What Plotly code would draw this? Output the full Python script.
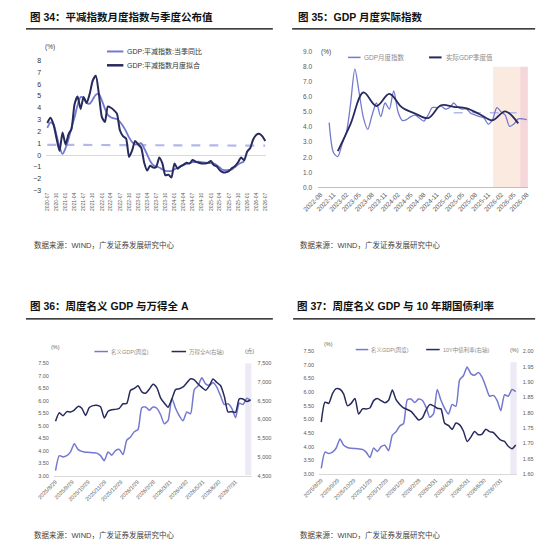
import pandas as pd
import plotly.graph_objects as go

# page body keeps an 8px margin, so the figure covers x 8..541, y 8..547 of the window
OFF = 8
W, H = 549 - 2 * OFF, 555 - 2 * OFF
FONT = "Liberation Sans, Noto Sans CJK SC, sans-serif"

# ---- 图34 平减指数 (monthly, 2020-07 .. 2026-07) ----
p1_months = pd.date_range("2020-07-01", periods=73, freq="MS")
p1_fit = [2.7, 3.15, 2.6, 1.45, 0.35, 1.9, 0.9, 1.8, 2.2, 4.3,
          4.95, 3.9, 4.9, 4.4, 5.2, 6.3, 6.7, 5.2, 3.2, 2.8,
          4.1, 4.0, 3.8, 3.5, 2.1, 1.6, 1.4, -0.15, 0.4, 1.2,
          0.9, 0.6, -0.6, -1.3, -0.9, -1.05, -1.0, -0.2, -0.7, -1.7,
          -1.65, -1.9, -0.7, -1.15, -0.95, -0.8, -0.65, -0.7, -0.42, -0.55,
          -0.65, -0.7, -0.7, -0.65, -0.5, -0.85, -0.95, -1.28, -1.45, -1.45,
          -1.35, -1.1, -0.92, -0.6, -0.2, -0.45, 0.3, 0.6, 1.3, 1.7,
          1.8, 1.6, 1.2]
p1_quarterly = [2.3, 2.75, 2.6, 1.7, 0.7, 0.1, 0.6, 1.4, 2.3, 3.2,
                4.2, 4.9, 4.8, 4.4, 4.35, 4.7, 5.1, 5.15, 4.6, 3.9,
                3.4, 3.2, 3.1, 3.05, 2.8, 2.45, 2.0, 1.5, 1.1, 0.9,
                0.95, 1.0, 0.6, 0.05, -0.5, -0.85, -0.95, -1.05, -1.2, -1.33,
                -1.35, -1.33, -1.2, -1.07, -0.95, -0.85, -0.75, -0.68, -0.6, -0.57,
                -0.56, -0.6, -0.63, -0.65, -0.68, -0.72, -0.85, -1.05, -1.25, -1.28,
                -1.25, -1.2, -1.0, -0.8, -0.65, -0.55]
p1_avg_dates = ["2020-07-01", "2026-07-01"]
p1_avg = [0.87, 0.8]

# ---- 图35 GDP 月度实际指数 ----
p2_months = pd.date_range("2022-10-01", periods=47, freq="MS")
p2_monthly = [4.3, 2.3, 2.05,
              2.9, 3.7, 5.5, 7.85, 6.3, 4.6, 3.85, 4.8, 5.6, 4.7, 5.6, 5.2,
              6.4, 5.0, 4.45, 4.5, 4.7, 4.8, 4.6, 4.4, 4.8, 5.3, 5.3, 5.4,
              5.2, 5.3, 5.6, 5.3, 5.2, 5.2, 4.9, 4.8, 4.7, 4.6, 4.2, 4.5,
              5.3, 5.0, 4.8, 4.05, 4.2, 4.55, 4.55, 4.5]
p2_quarters = pd.date_range("2022-12-01", periods=15, freq="3MS")
p2_quarterly = [2.4, 4.2, 6.3, 5.4, 6.2, 5.3, 4.9, 4.6, 5.45, 5.35, 5.25, 4.85, 4.45, 5.05, 4.25]
p2_target_dates = ["2025-03-01", "2026-06-01"]
p2_target = [4.95, 4.95]
p2_forecast_band = ["2025-12-05", "2026-06-15"]
p2_nowcast_band = ["2026-06-15", "2026-08-08"]

# ---- 图36 / 图37 weekly ----
wk = pd.date_range("2025-08-29", periods=53, freq="7D")
ngdp = [3.2, 3.8, 3.75, 3.8, 3.95, 4.28, 4.05, 3.97, 3.94, 3.93,
        3.92, 3.9, 3.8, 3.6, 3.95, 3.82, 4.0, 4.05, 3.85, 4.42,
        4.55, 4.76, 4.85, 5.72, 5.75, 5.62, 5.75, 5.7, 5.45, 5.08,
        5.2, 6.1, 5.7, 5.4, 5.2, 5.55, 5.48, 6.45, 6.6, 6.92,
        6.68, 6.62, 6.72, 6.55, 6.2, 5.85, 5.88, 5.7, 5.32, 5.9,
        5.85, 6.1, 6.02]
wind_a = [5950, 6180, 6100, 6210, 6200, 6250, 6350, 6300, 6110, 6320,
          6370, 6380, 6340, 6040, 6220, 6260, 6270, 6300, 6420, 6430,
          6780, 6830, 6900, 6740, 6700, 6810, 6940, 6850, 6580, 6440,
          6330, 6540, 6800, 6820, 6870, 6980, 7090, 7060, 6950, 6860,
          6780, 6900, 7080, 6990, 6910, 6620, 6200, 6210, 6190, 6550,
          6550, 6480, 6520]
cgb10 = [1.769, 1.834, 1.83, 1.862, 1.878, 1.876, 1.86, 1.822, 1.83, 1.846,
         1.795, 1.812, 1.812, 1.815, 1.839, 1.846, 1.839, 1.832, 1.84, 1.874,
         1.842, 1.826, 1.815, 1.81, 1.804, 1.79, 1.776, 1.782, 1.808, 1.826,
         1.822, 1.814, 1.812, 1.765, 1.758, 1.745, 1.766, 1.76, 1.74, 1.706,
         1.72, 1.738, 1.728, 1.73, 1.746, 1.738, 1.735, 1.722, 1.71, 1.706,
         1.69, 1.682, 1.694]
wk_ticks = ["2025-08-29", "2025-09-29", "2025-10-29", "2025-11-29", "2025-12-29", "2026-01-29",
            "2026-02-28", "2026-03-31", "2026-04-30", "2026-05-31", "2026-06-30", "2026-07-31"]
wk_ticktext = ["2025/8/29", "2025/9/29", "2025/10/29", "2025/11/29", "2025/12/29", "2026/1/29",
               "2026/2/28", "2026/3/31", "2026/4/30", "2026/5/31", "2026/6/30", "2026/7/31"]
wk_band = ["2026-08-18", "2026-08-30"]

LIGHT = "#7479cf"
DARK = "#262a5c"
DASH = "#b3b7ea"
TICK = "#595959"


# window pixel -> paper fraction
def fx(x):
    return (x - OFF) / W


def fy(y):
    return 1 - (y - OFF) / H


fig = go.Figure()

# panel 1
fig.add_trace(go.Scatter(x=p1_avg_dates, y=p1_avg, mode="lines", xaxis="x", yaxis="y",
                         line=dict(color=DASH, width=2.2, dash="dash")))
fig.add_trace(go.Scatter(x=p1_months[:len(p1_quarterly)], y=p1_quarterly, mode="lines", xaxis="x", yaxis="y",
                         line=dict(color=LIGHT, width=1.8, shape="spline", smoothing=0.8)))
fig.add_trace(go.Scatter(x=p1_months, y=p1_fit, mode="lines", xaxis="x", yaxis="y",
                         line=dict(color=DARK, width=2, shape="spline", smoothing=0.6)))

# panel 2
fig.add_trace(go.Scatter(x=p2_target_dates, y=p2_target, mode="lines", xaxis="x2", yaxis="y2",
                         line=dict(color=DASH, width=1.5, dash="dash")))
fig.add_trace(go.Scatter(x=p2_months, y=p2_monthly, mode="lines", xaxis="x2", yaxis="y2",
                         line=dict(color=LIGHT, width=1.3, shape="spline", smoothing=0.8)))
fig.add_trace(go.Scatter(x=p2_quarters, y=p2_quarterly, mode="lines", xaxis="x2", yaxis="y2",
                         line=dict(color=DARK, width=1.8, shape="spline", smoothing=1.0)))

# panel 3
fig.add_trace(go.Scatter(x=wk, y=ngdp, mode="lines", xaxis="x3", yaxis="y3",
                         line=dict(color=LIGHT, width=1.5, shape="spline", smoothing=0.6)))
fig.add_trace(go.Scatter(x=wk, y=wind_a, mode="lines", xaxis="x3", yaxis="y4",
                         line=dict(color=DARK, width=1.5, shape="spline", smoothing=0.6)))

# panel 4
fig.add_trace(go.Scatter(x=wk, y=ngdp, mode="lines", xaxis="x4", yaxis="y5",
                         line=dict(color=LIGHT, width=1.5, shape="spline", smoothing=0.6)))
fig.add_trace(go.Scatter(x=wk, y=cgb10, mode="lines", xaxis="x4", yaxis="y6",
                         line=dict(color=DARK, width=1.5, shape="spline", smoothing=0.6)))

small = dict(family=FONT, size=5.5, color=TICK)
mid = dict(family=FONT, size=6.5, color=TICK)

fig.update_layout(
    width=W, height=H, autosize=False, showlegend=False,
    margin=dict(l=0, r=0, t=0, b=0),
    paper_bgcolor="white", plot_bgcolor="rgba(0,0,0,0)",
    font=dict(family=FONT, color="#333"),
    # panel 1
    xaxis=dict(domain=[fx(30), fx(258)], anchor="y", range=["2020-06-20", "2026-07-10"],
               tick0="2020-07-01", dtick="M3", tickformat="%Y-%m", tickangle=-90,
               tickfont=dict(family=FONT, size=5, color=TICK), showgrid=False, showline=False,
               zeroline=False, ticks=""),
    yaxis=dict(domain=[fy(189), fy(57)], anchor="x", range=[-3, 8], dtick=1,
               tickfont=dict(family=FONT, size=7, color="#333"), showgrid=False,
               zeroline=True, zerolinecolor="#d9d9d9", zerolinewidth=1, ticklabelstandoff=4),
    # panel 2
    xaxis2=dict(domain=[fx(312), fx(530)], anchor="y2", range=["2022-07-15", "2026-08-12"],
                tick0="2022-08-01", dtick="M3", tickformat="%Y-%m", tickangle=-45,
                tickfont=mid, showgrid=False, showline=True, linecolor="#bfbfbf", linewidth=1,
                zeroline=False, ticks=""),
    yaxis2=dict(domain=[fy(185.7), fy(48.3)], anchor="x2", range=[0, 9], dtick=1, tickformat=".1f",
                tickfont=mid, showgrid=False, zeroline=False, ticklabelstandoff=5),
    # panel 3
    xaxis3=dict(domain=[fx(38), fx(243)], anchor="y3", range=["2025-08-26", "2026-08-30"],
                tickvals=wk_ticks, ticktext=wk_ticktext, tickangle=-45, tickfont=small,
                showgrid=False, showline=True, linecolor="#d9d9d9", zeroline=False, ticks=""),
    yaxis3=dict(domain=[fy(477.7), fy(364)], anchor="x3", range=[3, 7.5], dtick=0.5, tickformat=".2f",
                tickfont=small, showgrid=False, zeroline=False, ticklabelstandoff=4),
    yaxis4=dict(overlaying="y3", side="right", anchor="x3", range=[4500, 7500], dtick=500,
                tickformat=",d", tickfont=small, showgrid=False, zeroline=False, ticklabelstandoff=5),
    # panel 4
    xaxis4=dict(domain=[fx(313), fx(518)], anchor="y5", range=["2025-08-25", "2026-08-30"],
                tickvals=wk_ticks, ticktext=wk_ticktext, tickangle=-45, tickfont=small,
                showgrid=False, showline=True, linecolor="#d9d9d9", zeroline=False, ticks=""),
    yaxis5=dict(domain=[fy(476), fy(351.7)], anchor="x4", range=[3, 7.5], dtick=0.5, tickformat=".2f",
                tickfont=small, showgrid=False, zeroline=False, ticklabelstandoff=4),
    yaxis6=dict(overlaying="y5", side="right", anchor="x4", range=[1.6, 2.0], dtick=0.05,
                tickformat=".2f", tickfont=small, showgrid=False, zeroline=False, ticklabelstandoff=5),
)

shapes = []
# rules under titles
for x0, x1, y in [(9, 265, 25), (285, 537, 25), (9, 265, 319), (286, 537, 319)]:
    shapes.append(dict(type="line", xref="paper", yref="paper", x0=fx(x0), x1=fx(x1), y0=fy(y), y1=fy(y),
                       line=dict(color="black", width=1.2)))
# shaded periods
shapes.append(dict(type="rect", xref="x2", yref="y2", x0=p2_forecast_band[0], x1=p2_forecast_band[1],
                   y0=0, y1=8, fillcolor="#fbeadf", line=dict(width=0), layer="below"))
shapes.append(dict(type="rect", xref="x2", yref="y2", x0=p2_nowcast_band[0], x1=p2_nowcast_band[1],
                   y0=0, y1=8, fillcolor="#f5d6d9", line=dict(width=0), layer="below"))
shapes.append(dict(type="rect", xref="x3", yref="y3", x0=wk_band[0], x1=wk_band[1],
                   y0=3, y1=7.55, fillcolor="#ede9f5", line=dict(width=0), layer="below"))
shapes.append(dict(type="rect", xref="x4", yref="y5", x0=wk_band[0], x1=wk_band[1],
                   y0=3, y1=7.1, fillcolor="#ede9f5", line=dict(width=0), layer="below"))


def legend_line(x0, x1, y, color, width):
    shapes.append(dict(type="line", xref="paper", yref="paper", x0=fx(x0), x1=fx(x1), y0=fy(y), y1=fy(y),
                       line=dict(color=color, width=width)))


legend_line(93, 110, 48, LIGHT, 2)
legend_line(93, 110, 62, DARK, 2.5)
legend_line(343, 356, 54, LIGHT, 1.5)
legend_line(427, 440, 54, DARK, 2)
legend_line(80, 94, 352, LIGHT, 1.5)
legend_line(160, 175, 352, DARK, 1.5)
legend_line(351, 364, 350, LIGHT, 1.5)
legend_line(424, 438, 350, DARK, 1.5)
fig.update_layout(shapes=shapes)

anns = []


def text(x, y, s, size, color="#333", xanchor="left", bold=False):
    anns.append(dict(xref="paper", yref="paper", x=fx(x), y=fy(y), text=f"<b>{s}</b>" if bold else s,
                     showarrow=False, xanchor=xanchor, yanchor="middle",
                     font=dict(family=FONT, size=size, color=color)))


# titles
text(11, 13, "图 34：平减指数月度指数与季度公布值", 10.5, "#111", bold=True)
text(289, 13, "图 35：GDP 月度实际指数", 10.5, "#111", bold=True)
text(11, 306, "图 36：周度名义 GDP 与万得全 A", 10.5, "#111", bold=True)
text(288, 306, "图 37：周度名义 GDP 与 10 年期国债利率", 10.5, "#111", bold=True)
# sources
for x, y in [(15, 244), (291, 244), (15, 538), (291, 538)]:
    text(x, y, "数据来源：WIND，广发证券发展研究中心", 7.5, "#444")
# units and legends
text(27, 43, "(%)", 6.5, "#444")
text(112, 48, "GDP:平减指数:当季同比", 7, "#333")
text(112, 62, "GDP:平减指数月度拟合", 7, "#333")
text(313, 49, "(%)", 6.5, "#444")
text(357, 54, "GDP月度指数", 6.5, "#8c8c8c")
text(442, 54, "实际GDP季度值", 6.5, "#8c8c8c")
text(33, 347, "(%)", 5.5, "#666")
text(95, 352, "名义GDP(周度)", 5.5, "#8c8c8c")
text(176, 352, "万得全A(右轴)", 5.5, "#8c8c8c")
text(234, 352, "(点)", 5.5, "#666")
text(316, 344, "(%)", 5.5, "#666")
text(365, 350, "名义GDP(周度)", 5.5, "#8c8c8c")
text(439, 350, "10Y中债利率(右轴)", 5.5, "#8c8c8c")
text(509, 350, "(%)", 5.5, "#666")
fig.update_layout(annotations=anns)

fig.write_html("out.html")
